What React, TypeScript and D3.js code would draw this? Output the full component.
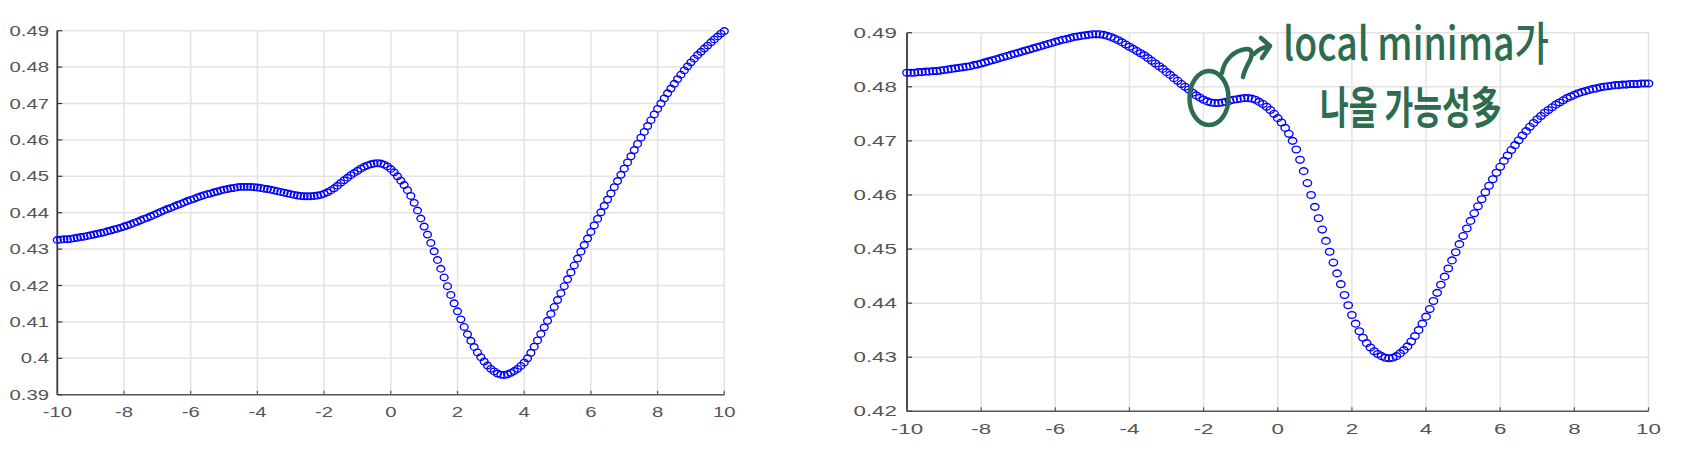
import React from "react";
import * as d3 from "d3";

// ---------- data ----------
const X_START = -10;
const X_STEP = 0.1;

const leftValues: number[] = [
  0.4325, 0.4326, 0.4327, 0.4327, 0.4328, 0.4330, 0.4331, 0.4333, 0.4334, 0.4336,
  0.4338, 0.4340, 0.4342, 0.4344, 0.4346, 0.4349, 0.4351, 0.4354, 0.4356, 0.4359,
  0.4362, 0.4365, 0.4368, 0.4372, 0.4375, 0.4379, 0.4383, 0.4386, 0.4390, 0.4394,
  0.4398, 0.4402, 0.4406, 0.4410, 0.4413, 0.4417, 0.4421, 0.4424, 0.4428, 0.4432,
  0.4435, 0.4438, 0.4442, 0.4445, 0.4448, 0.4451, 0.4453, 0.4456, 0.4458, 0.4461,
  0.4463, 0.4465, 0.4467, 0.4468, 0.4470, 0.4471, 0.4471, 0.4471, 0.4471, 0.4470,
  0.4469, 0.4468, 0.4466, 0.4465, 0.4463, 0.4461, 0.4459, 0.4457, 0.4455, 0.4453,
  0.4451, 0.4449, 0.4447, 0.4446, 0.4445, 0.4445, 0.4445, 0.4446, 0.4447, 0.4449,
  0.4452, 0.4456, 0.4461, 0.4467, 0.4474, 0.4482, 0.4489, 0.4496, 0.4503, 0.4509,
  0.4515, 0.4521, 0.4526, 0.4530, 0.4533, 0.4535, 0.4536, 0.4535, 0.4532, 0.4527,
  0.4520, 0.4511, 0.4500, 0.4488, 0.4476, 0.4462, 0.4446, 0.4427, 0.4406, 0.4384,
  0.4362, 0.4340, 0.4317, 0.4294, 0.4270, 0.4246, 0.4222, 0.4198, 0.4174, 0.4151,
  0.4129, 0.4107, 0.4086, 0.4066, 0.4048, 0.4031, 0.4016, 0.4003, 0.3991, 0.3980,
  0.3971, 0.3964, 0.3958, 0.3955, 0.3954, 0.3956, 0.3960, 0.3965, 0.3971, 0.3979,
  0.3988, 0.4000, 0.4015, 0.4032, 0.4049, 0.4067, 0.4085, 0.4103, 0.4122, 0.4141,
  0.4160, 0.4179, 0.4198, 0.4217, 0.4236, 0.4255, 0.4274, 0.4293, 0.4311, 0.4329,
  0.4347, 0.4365, 0.4383, 0.4401, 0.4419, 0.4436, 0.4453, 0.4470, 0.4487, 0.4504,
  0.4521, 0.4538, 0.4555, 0.4572, 0.4589, 0.4606, 0.4622, 0.4638, 0.4654, 0.4670,
  0.4685, 0.4700, 0.4714, 0.4728, 0.4741, 0.4754, 0.4767, 0.4779, 0.4791, 0.4802,
  0.4813, 0.4823, 0.4833, 0.4842, 0.4851, 0.4859, 0.4868, 0.4876, 0.4884, 0.4892,
  0.4899,
];

const rightValues: number[] = [
  0.4826, 0.4826, 0.4826, 0.4827, 0.4827, 0.4828, 0.4828, 0.4829, 0.4829, 0.4830,
  0.4831, 0.4832, 0.4833, 0.4834, 0.4835, 0.4836, 0.4837, 0.4838, 0.4840, 0.4841,
  0.4843, 0.4845, 0.4847, 0.4849, 0.4851, 0.4853, 0.4855, 0.4857, 0.4859, 0.4861,
  0.4863, 0.4865, 0.4867, 0.4869, 0.4871, 0.4873, 0.4875, 0.4877, 0.4879, 0.4881,
  0.4883, 0.4885, 0.4887, 0.4888, 0.4890, 0.4892, 0.4893, 0.4894, 0.4895, 0.4896,
  0.4897, 0.4897, 0.4897, 0.4896, 0.4894, 0.4892, 0.4889, 0.4886, 0.4882, 0.4878,
  0.4874, 0.4870, 0.4866, 0.4862, 0.4858, 0.4853, 0.4848, 0.4843, 0.4838, 0.4833,
  0.4827, 0.4822, 0.4816, 0.4811, 0.4805, 0.4800, 0.4795, 0.4789, 0.4784, 0.4780,
  0.4776, 0.4773, 0.4771, 0.4770, 0.4770, 0.4771, 0.4772, 0.4774, 0.4776, 0.4777,
  0.4778, 0.4779, 0.4779, 0.4778, 0.4776, 0.4772, 0.4768, 0.4763, 0.4757, 0.4750,
  0.4742, 0.4734, 0.4724, 0.4713, 0.4700, 0.4684, 0.4665, 0.4644, 0.4622, 0.4600,
  0.4578, 0.4557, 0.4536, 0.4515, 0.4495, 0.4475, 0.4455, 0.4435, 0.4415, 0.4396,
  0.4378, 0.4362, 0.4348, 0.4336, 0.4326, 0.4318, 0.4311, 0.4306, 0.4302, 0.4299,
  0.4298, 0.4299, 0.4302, 0.4307, 0.4313, 0.4320, 0.4329, 0.4339, 0.4350, 0.4362,
  0.4375, 0.4389, 0.4404, 0.4419, 0.4434, 0.4449, 0.4464, 0.4479, 0.4494, 0.4509,
  0.4524, 0.4538, 0.4552, 0.4566, 0.4579, 0.4592, 0.4605, 0.4617, 0.4629, 0.4641,
  0.4652, 0.4663, 0.4673, 0.4683, 0.4692, 0.4701, 0.4710, 0.4718, 0.4726, 0.4733,
  0.4740, 0.4746, 0.4752, 0.4757, 0.4762, 0.4767, 0.4771, 0.4775, 0.4779, 0.4782,
  0.4785, 0.4788, 0.4790, 0.4792, 0.4794, 0.4796, 0.4797, 0.4799, 0.4800, 0.4801,
  0.4802, 0.4803, 0.4803, 0.4804, 0.4804, 0.4805, 0.4805, 0.4805, 0.4806, 0.4806,
  0.4806,
];

const xTicks: number[] = [-10, -8, -6, -4, -2, 0, 2, 4, 6, 8, 10];
const xTickLabels: string[] = ["-10", "-8", "-6", "-4", "-2", "0", "2", "4", "6", "8", "10"];
const leftYTicks: number[] = [0.39, 0.4, 0.41, 0.42, 0.43, 0.44, 0.45, 0.46, 0.47, 0.48, 0.49];
const leftYTickLabels: string[] = ["0.39", "0.4", "0.41", "0.42", "0.43", "0.44", "0.45", "0.46", "0.47", "0.48", "0.49"];
const rightYTicks: number[] = [0.42, 0.43, 0.44, 0.45, 0.46, 0.47, 0.48, 0.49];
const rightYTickLabels: string[] = ["0.42", "0.43", "0.44", "0.45", "0.46", "0.47", "0.48", "0.49"];

const annotationLine1 = "local minima가";
const annotationLine2 = "나올 가능성多";

// ---------- styling ----------
const FONT = "'Liberation Sans', Arial, Helvetica, sans-serif";
const LABEL_COLOR = "#555555";
const GRID_COLOR = "#e3e3e3";
const MARKER_COLOR = "#0000ff";
const GREEN = "#2e6c50";

type PanelProps = {
  values: number[];
  xRange: [number, number];
  yDomain: [number, number];
  yRange: [number, number];
  yTicks: number[];
  yTickLabels: string[];
  yLabelX: number;
  xLabelY: number;
  textScale: number;
  rx: number;
  ry: number;
};

function Panel(p: PanelProps) {
  const x = d3.scaleLinear().domain([-10, 10]).range(p.xRange);
  const y = d3.scaleLinear().domain(p.yDomain).range(p.yRange);
  const [x0, x1] = p.xRange;
  const [yb, yt] = p.yRange;
  const points = p.values.map((v, i) => ({ xv: X_START + i * X_STEP, v }));
  return (
    <g>
      {xTicks.map((t) => (
        <line key={"gx" + t} x1={x(t)} x2={x(t)} y1={yt} y2={yb} stroke={GRID_COLOR} strokeWidth={1.5} />
      ))}
      {p.yTicks.map((t) => (
        <line key={"gy" + t} x1={x0} x2={x1} y1={y(t)} y2={y(t)} stroke={GRID_COLOR} strokeWidth={1.5} />
      ))}
      <line x1={x0} x2={x1} y1={yb} y2={yb} stroke="#5a5a5a" strokeWidth={1.6} />
      <line x1={x0} x2={x0} y1={yt} y2={yb} stroke="#3a3a3a" strokeWidth={1.8} />
      {xTicks.map((t) => (
        <line key={"tx" + t} x1={x(t)} x2={x(t)} y1={yb} y2={yb - 4} stroke="#5a5a5a" strokeWidth={1.2} />
      ))}
      {p.yTicks.map((t) => (
        <line key={"ty" + t} x1={x0} x2={x0 + 5} y1={y(t)} y2={y(t)} stroke="#3a3a3a" strokeWidth={1.2} />
      ))}
      {p.yTicks.map((t, i) => (
        <text
          key={"ly" + t}
          transform={`translate(${p.yLabelX},${y(t) + 5}) scale(${p.textScale},1)`}
          textAnchor="end"
          fontFamily={FONT}
          fontSize={14}
          fill={LABEL_COLOR}
        >
          {p.yTickLabels[i]}
        </text>
      ))}
      {xTicks.map((t, i) => (
        <text
          key={"lx" + t}
          transform={`translate(${x(t)},${p.xLabelY}) scale(${p.textScale},1)`}
          textAnchor="middle"
          fontFamily={FONT}
          fontSize={14}
          fill={LABEL_COLOR}
        >
          {xTickLabels[i]}
        </text>
      ))}
      {points.map((d, i) => (
        <ellipse
          key={"m" + i}
          cx={x(d.xv)}
          cy={y(d.v)}
          rx={p.rx}
          ry={p.ry}
          fill="none"
          stroke={MARKER_COLOR}
          strokeWidth={1.35}
        />
      ))}
    </g>
  );
}

export default function App() {
  return (
    <div style={{ position: "absolute", left: 0, top: 0 }}>
      <svg width={1690} height={454} viewBox="0 0 1690 454" style={{ display: "block", background: "#fff" }}>
        <rect x={0} y={0} width={1690} height={454} fill="#fff" />
        <Panel
          values={leftValues}
          xRange={[57.3, 724.3]}
          yDomain={[0.39, 0.49]}
          yRange={[394.7, 30.7]}
          yTicks={leftYTicks}
          yTickLabels={leftYTickLabels}
          yLabelX={49}
          xLabelY={416.5}
          textScale={1.45}
          rx={3.9}
          ry={3.3}
        />
        <Panel
          values={rightValues}
          xRange={[907, 1648.5]}
          yDomain={[0.42, 0.49]}
          yRange={[411.3, 32.7]}
          yTicks={rightYTicks}
          yTickLabels={rightYTickLabels}
          yLabelX={897}
          xLabelY={433.5}
          textScale={1.6}
          rx={4.2}
          ry={3.4}
        />
        <g stroke={GREEN} fill="none" strokeWidth={4.5} strokeLinecap="round" strokeLinejoin="round">
          <ellipse cx={1209} cy={98} rx={19.5} ry={27} />
          <path d="M1222,73 C1224,60 1234,50 1247,49 C1254,49 1252,58 1248,64 C1246,68 1244,72 1243,77" />
          <path d="M1254,54 C1258,50 1262,47 1268,47" />
          <path d="M1261,38 L1270,46 L1262,58" />
        </g>
        <text
          x={1283}
          y={60}
          fontFamily="'Noto Sans CJK KR', 'Noto Sans', sans-serif"
          fontSize={46}
          fontWeight={500}
          fill={GREEN}
          textLength={266}
          lengthAdjust="spacingAndGlyphs"
        >
          {annotationLine1}
        </text>
        <text
          x={1320}
          y={124}
          fontFamily="'Noto Sans CJK KR', 'Noto Sans', sans-serif"
          fontSize={44}
          fontWeight={700}
          fill={GREEN}
          textLength={182}
          lengthAdjust="spacingAndGlyphs"
        >
          {annotationLine2}
        </text>
      </svg>
    </div>
  );
}
